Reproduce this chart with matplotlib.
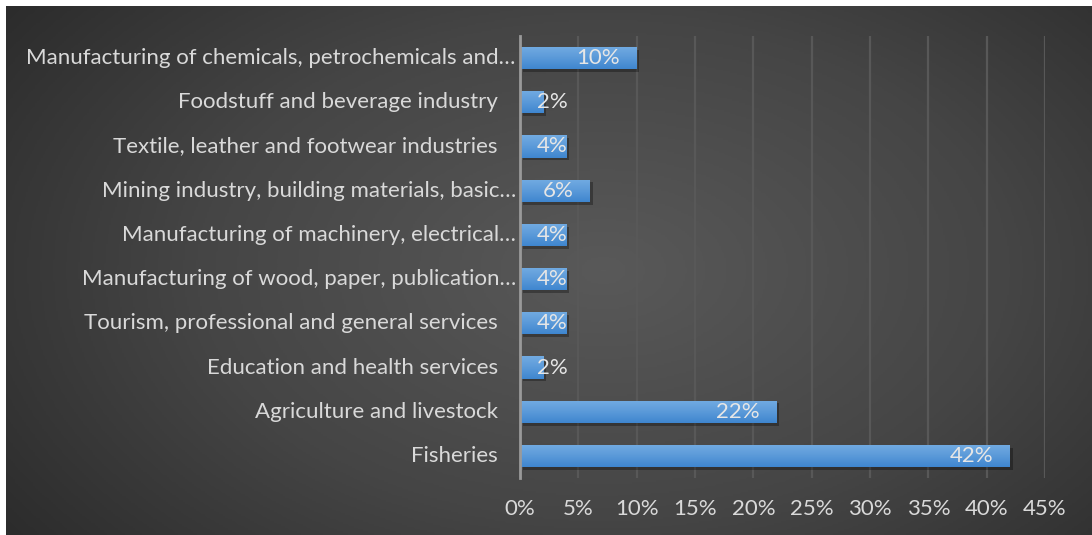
import numpy as np
import matplotlib
matplotlib.use("Agg")
import matplotlib.pyplot as plt
import matplotlib.patheffects as pe
import matplotlib.transforms as mtransforms
from matplotlib.colors import LinearSegmentedColormap

categories = [
    "Manufacturing of chemicals, petrochemicals and\u2026",
    "Foodstuff and beverage industry",
    "Textile, leather and footwear industries",
    "Mining industry, building materials, basic\u2026",
    "Manufacturing of machinery, electrical\u2026",
    "Manufacturing of wood, paper, publication\u2026",
    "Tourism, professional and general services",
    "Education and health services",
    "Agriculture and livestock",
    "Fisheries",
]
shares = [10, 2, 4, 6, 4, 4, 4, 2, 22, 42]
xticks = [0, 5, 10, 15, 20, 25, 30, 35, 40, 45]

W, H = 1092, 535
txt = "#d9d9d9"
font = "Lato"
fs = 16

fig = plt.figure(figsize=(W / 100, H / 100), dpi=100, facecolor="white")

# dark panel with a soft radial glow
bg = fig.add_axes([6 / W, 0, 1 - 6 / W, 1 - 6 / H], zorder=0)
yy, xx = np.mgrid[0:1:300j, 0:1:600j]
r = np.sqrt(((xx - 0.55) / 0.75) ** 2 + ((yy - 0.5) / 0.95) ** 2)
bg_cmap = LinearSegmentedColormap.from_list("bg", ["#595959", "#454545", "#262626"])
bg.imshow(np.clip(r, 0, 1), cmap=bg_cmap, aspect="auto", extent=[0, 1, 0, 1], vmin=0, vmax=1)
bg.set_axis_off()

ax = fig.add_axes([520 / W, 1 - 478 / H, 525 / W, 442 / H], zorder=1)
ax.set_facecolor("none")

y = np.arange(len(categories))
bar_cmap = LinearSegmentedColormap.from_list("bar", ["#72abe2", "#5b9ad9", "#3f86cf"])
grad = np.linspace(0, 1, 64).reshape(-1, 1)
bars = ax.barh(y, shares, height=0.5, color="#5b9bd5", zorder=3,
               path_effects=[pe.SimplePatchShadow(offset=(2, -2), shadow_rgbFace="black", alpha=0.3), pe.Normal()])
for b, v, yi in zip(bars, shares, y):
    im = ax.imshow(grad, cmap=bar_cmap, aspect="auto", zorder=4,
                   extent=(0, v, yi + 0.25, yi - 0.25), origin="upper")
    im.set_clip_path(b)

ax.set_xlim(0, 45)
ax.set_ylim(len(categories) - 0.5, -0.5)

ax.set_xticks(xticks)
ax.set_xticklabels([f"{t}%" for t in xticks], color=txt, fontsize=fs, family=font)
ax.tick_params(axis="x", length=0, pad=15)
ax.set_yticks([])
ax.xaxis.grid(True, color="#585858", linewidth=1.6, zorder=0)
ax.set_axisbelow(True)
for s in ["top", "right", "bottom"]:
    ax.spines[s].set_visible(False)
ax.spines["left"].set_color("#9a9a9a")
ax.spines["left"].set_linewidth(2)
ax.spines["left"].set_zorder(5)

# category names, truncated ones sit a little further right
yt = ax.get_yaxis_transform()
for name, yi in zip(categories, y):
    dx = -3 if name.endswith("\u2026") else -16
    ax.text(0, yi, name, transform=mtransforms.offset_copy(yt, fig=fig, x=dx, y=0, units="points"),
            ha="right", va="center", color=txt, fontsize=fs, family=font)

# value labels at the inside end, pushed to the base when they do not fit
fig.canvas.draw()
renderer = fig.canvas.get_renderer()
pad = 12
for v, yi in zip(shares, y):
    t = ax.text(v, yi, f"{v}%", color="#e6e6e6", fontsize=fs, family=font, ha="right", va="center", zorder=6,
                transform=mtransforms.offset_copy(ax.transData, fig=fig, x=-pad, y=0, units="points"))
    x0 = ax.transData.transform((0, 0))[0]
    if t.get_window_extent(renderer).x0 < x0 + pad / 72 * fig.dpi:
        t.set_x(0)
        t.set_ha("left")
        t.set_transform(mtransforms.offset_copy(ax.transData, fig=fig, x=pad, y=0, units="points"))

fig.savefig("out.png", dpi=100, facecolor="white")
